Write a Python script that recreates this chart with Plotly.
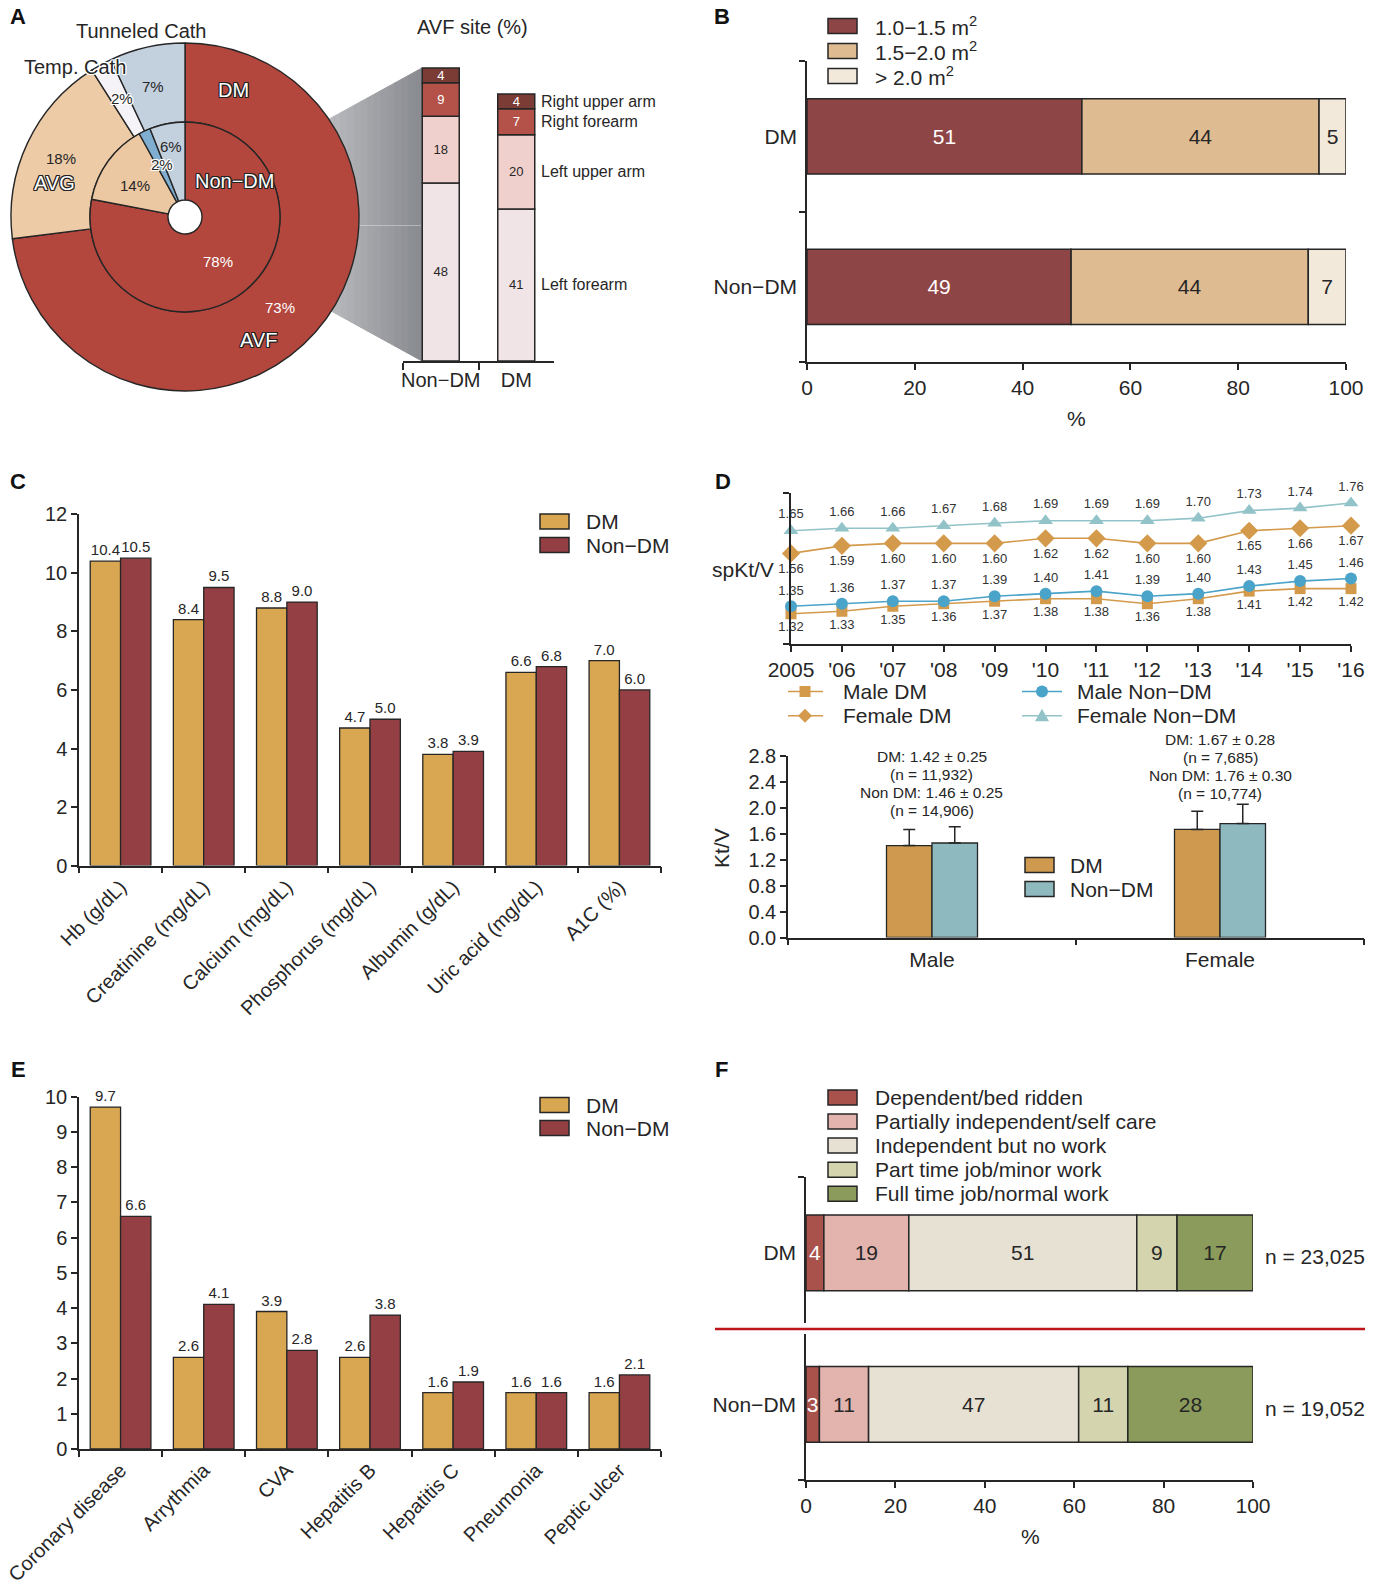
import plotly.graph_objects as go

W, H = 1383, 1588


def fx(px):
    return px / W


def fy(py):
    return 1 - py / H


NARROW = "Liberation Sans, Arial, Helvetica, sans-serif"
SANS = "Liberation Sans, Arial, Helvetica, sans-serif"
INK = "#262626"

# ---------------- data ----------------
access_types = ["AVF", "AVG", "Temp. Cath", "Tunneled Cath"]
access_dm_pct = [73, 18, 2, 7]
access_nondm_pct = [78, 14, 2, 6]

avf_groups = ["Non\u2212DM", "DM"]
avf_sites = ["Left forearm", "Left upper arm", "Right forearm", "Right upper arm"]
avf_left_forearm = [48, 41]
avf_left_upper_arm = [18, 20]
avf_right_forearm = [9, 7]
avf_right_upper_arm = [4, 4]

bsa_groups = ["Non\u2212DM", "DM"]
bsa_classes = ["1.0\u22121.5 m<sup>2</sup>", "1.5\u22122.0 m<sup>2</sup>", "> 2.0 m<sup>2</sup>"]
bsa_10_15 = [49, 51]
bsa_15_20 = [44, 44]
bsa_over_20 = [7, 5]

lab_items = ["Hb (g/dL)", "Creatinine (mg/dL)", "Calcium (mg/dL)", "Phosphorus (mg/dL)",
             "Albumin (g/dL)", "Uric acid (mg/dL)", "A1C (%)"]
lab_dm = [10.4, 8.4, 8.8, 4.7, 3.8, 6.6, 7.0]
lab_nondm = [10.5, 9.5, 9.0, 5.0, 3.9, 6.8, 6.0]

years = [2005, 2006, 2007, 2008, 2009, 2010, 2011, 2012, 2013, 2014, 2015, 2016]
year_labels = ["2005", "'06", "'07", "'08", "'09", "'10", "'11", "'12", "'13", "'14", "'15", "'16"]
spktv_male_dm = [1.32, 1.33, 1.35, 1.36, 1.37, 1.38, 1.38, 1.36, 1.38, 1.41, 1.42, 1.42]
spktv_male_nondm = [1.35, 1.36, 1.37, 1.37, 1.39, 1.40, 1.41, 1.39, 1.40, 1.43, 1.45, 1.46]
spktv_female_dm = [1.56, 1.59, 1.60, 1.60, 1.60, 1.62, 1.62, 1.60, 1.60, 1.65, 1.66, 1.67]
spktv_female_nondm = [1.65, 1.66, 1.66, 1.67, 1.68, 1.69, 1.69, 1.69, 1.70, 1.73, 1.74, 1.76]
spktv_series = ["Male DM", "Male Non\u2212DM", "Female DM", "Female Non\u2212DM"]

ktv_sex = ["Male", "Female"]
ktv_dm_mean = [1.42, 1.67]
ktv_dm_sd = [0.25, 0.28]
ktv_dm_n = [11932, 7685]
ktv_nondm_mean = [1.46, 1.76]
ktv_nondm_sd = [0.25, 0.30]
ktv_nondm_n = [14906, 10774]

comorb_items = ["Coronary disease", "Arrythmia", "CVA", "Hepatitis B", "Hepatitis C",
                "Pneumonia", "Peptic ulcer"]
comorb_dm = [9.7, 2.6, 3.9, 2.6, 1.6, 1.6, 1.6]
comorb_nondm = [6.6, 4.1, 2.8, 3.8, 1.9, 1.6, 2.1]

func_groups = ["Non\u2212DM", "DM"]
func_classes = ["Dependent/bed ridden", "Partially independent/self care",
                "Independent but no work", "Part time job/minor work",
                "Full time job/normal work"]
func_dependent = [3, 4]
func_partial = [11, 19]
func_indep_nowork = [47, 51]
func_parttime = [11, 9]
func_fulltime = [28, 17]
func_n = [19052, 23025]

# ---------------- styles ----------------
PIE_DM_COLORS = ["#B3463D", "#ECCBA6", "#F6F3F8", "#C3D0DE"]
PIE_NONDM_COLORS = ["#B3463D", "#EBC8A2", "#7FAED0", "#C3D0DE"]
AVF_COLORS = ["#F0E4E6", "#F0D0CC", "#B4524A", "#7B3C36"]
AVF_TEXT = [INK, INK, "white", "white"]
BSA_COLORS = ["#8E4545", "#DFBB92", "#F3E9DB"]
BSA_TEXT = ["white", INK, INK]
GOLD = "#D9A651"
DARKRED = "#933F43"
LINE_DM = "#D49A4C"
MALE_NONDM = "#4AA3C8"
FEMALE_NONDM = "#92C3C8"
KTV_DM = "#CF9A50"
KTV_NONDM = "#8DB9BF"
FUNC_COLORS = ["#A9524C", "#E3B3AE", "#E7E1D4", "#D4D5AE", "#8A9B5B"]
FUNC_TEXT = ["white", INK, INK, INK, INK]

OUTLINE = ", ".join(f"{a}px {b}px 0 #222" for a, b in
                    [(-1, -1), (1, -1), (-1, 1), (1, 1), (0, 1), (0, -1), (1, 0), (-1, 0)])
HALO = ", ".join(f"{a}px {b}px 0 #fff" for a, b in
                 [(-1, -1), (1, -1), (-1, 1), (1, 1), (0, 1), (0, -1), (1, 0), (-1, 0)])

BIG = 21

fig = go.Figure()
annotations = []
shapes = []


def ann(text, x, y, size, family=NARROW, color=INK, xanchor="center", yanchor="middle",
        shadow=None, **kw):
    font = dict(family=family, size=size, color=color)
    if shadow:
        font["shadow"] = shadow
    d = dict(text=text, x=fx(x), y=fy(y), xref="paper", yref="paper", showarrow=False,
             font=font, xanchor=xanchor, yanchor=yanchor)
    d.update(kw)
    annotations.append(d)


def legend_box(x0, yc, color, w=29, h=15):
    shapes.append(dict(type="rect", xref="paper", yref="paper", x0=fx(x0), x1=fx(x0 + w),
                       y0=fy(yc + h / 2), y1=fy(yc - h / 2), fillcolor=color,
                       line=dict(color=INK, width=1.5), layer="above"))


# ---------------- Panel A: donut ----------------
fig.add_trace(go.Pie(labels=access_types, values=access_dm_pct, sort=False,
                     direction="clockwise", rotation=0, hole=95 / 174,
                     domain=dict(x=[fx(11), fx(359)], y=[fy(391), fy(43)]),
                     marker=dict(colors=PIE_DM_COLORS, line=dict(color=INK, width=1.4)),
                     textinfo="none", hoverinfo="skip", showlegend=False))
fig.add_trace(go.Pie(labels=access_types, values=access_nondm_pct, sort=False,
                     direction="clockwise", rotation=0, hole=17 / 95,
                     domain=dict(x=[fx(90), fx(280)], y=[fy(312), fy(122)]),
                     marker=dict(colors=PIE_NONDM_COLORS, line=dict(color=INK, width=1.4)),
                     textinfo="none", hoverinfo="skip", showlegend=False))

# gray connector (gradient strips)
N = 18
xl, xr = 300.0, 422.0
for i in range(N):
    xa = xl + (xr - xl) * i / N
    xb = xl + (xr - xl) * (i + 1) / N
    t = (i + 0.5) / N
    c = [int(round(a + (b - a) * t)) for a, b in zip((200, 201, 204), (136, 138, 143))]
    col = f"rgb({c[0]},{c[1]},{c[2]})"
    top = lambda x: 68 + (422 - x) * 0.55
    bot = lambda x: 361 - (422 - x) * 0.55
    path = (f"M {fx(xa)},{fy(top(xa))} L {fx(xb)},{fy(top(xb))} "
            f"L {fx(xb)},{fy(bot(xb))} L {fx(xa)},{fy(bot(xa))} Z")
    shapes.append(dict(type="path", xref="paper", yref="paper", path=path, fillcolor=col,
                       line=dict(color=col, width=1), layer="below"))
shapes.append(dict(type="line", xref="paper", yref="paper", x0=fx(320), x1=fx(421),
                   y0=fy(225.5), y1=fy(225.5), line=dict(color="rgba(255,255,255,0.35)", width=1),
                   layer="below"))

# pie labels
ann("Tunneled Cath", 141, 31, 20, family=SANS)
ann("Temp. Cath", 75, 67, 20, family=SANS, shadow=HALO)
ann("DM", 233, 90, 20, family=SANS, color="white", shadow=OUTLINE)
ann(f"{access_dm_pct[3]}%", 153, 86, 15, family=SANS)
ann(f"{access_dm_pct[2]}%", 122, 98, 15, family=SANS, shadow=HALO)
ann(f"{access_dm_pct[1]}%", 61, 158, 15, family=SANS)
ann("AVG", 54, 183, 20, family=SANS, color="white", shadow=OUTLINE)
ann(f"{access_nondm_pct[3]}%", 171, 146, 15, family=SANS)
ann(f"{access_nondm_pct[2]}%", 162, 165, 15, family=SANS, shadow=HALO)
ann(f"{access_nondm_pct[1]}%", 135, 185, 15, family=SANS)
ann("Non\u2212DM", 234, 181, 20, family=SANS, color="white", shadow=OUTLINE)
ann(f"{access_nondm_pct[0]}%", 218, 262, 15, family=SANS, color="white")
ann(f"{access_dm_pct[0]}%", 280, 308, 15, family=SANS, color="white")
ann("AVF", 258, 340, 20, family=SANS, color="white", shadow=OUTLINE)

# ---------------- Panel A: AVF site stacked bars ----------------
avf_stack = [avf_left_forearm, avf_left_upper_arm, avf_right_forearm, avf_right_upper_arm]
base = [0] * len(avf_groups)
for vals, col, tcol, name in zip(avf_stack, AVF_COLORS, AVF_TEXT, avf_sites):
    fig.add_trace(go.Bar(x=avf_groups, y=vals, base=list(base), width=0.49, name=name,
                         marker=dict(color=col, line=dict(color=INK, width=1.5)),
                         text=vals, textposition="inside", insidetextanchor="middle",
                         textangle=0, constraintext="none",
                         textfont=dict(family=SANS, size=13, color=tcol),
                         xaxis="x", yaxis="y", showlegend=False, hoverinfo="skip"))
    annotations.append(dict(text=name, x=1.3, y=base[1] + vals[1] / 2, xref="x", yref="y",
                            showarrow=False, xanchor="left", yanchor="middle",
                            font=dict(family=SANS, size=16, color=INK)))
    base = [b + v for b, v in zip(base, vals)]
ann("AVF site (%)", 472, 27, 20, family=SANS)

# ---------------- Panel B ----------------
base = [0] * len(bsa_groups)
for vals, col, tcol, name in zip([bsa_10_15, bsa_15_20, bsa_over_20], BSA_COLORS, BSA_TEXT, bsa_classes):
    fig.add_trace(go.Bar(y=bsa_groups, x=vals, base=list(base), orientation="h", width=0.5,
                         marker=dict(color=col, line=dict(color=INK, width=1.5)),
                         text=vals, textposition="inside", insidetextanchor="middle",
                         textangle=0, constraintext="none",
                         textfont=dict(family=NARROW, size=BIG, color=tcol),
                         xaxis="x2", yaxis="y2", showlegend=False, hoverinfo="skip"))
    base = [b + v for b, v in zip(base, vals)]
for i, (name, col) in enumerate(zip(bsa_classes, BSA_COLORS)):
    yc = 26 + 25 * i
    legend_box(828, yc, col)
    ann(name, 873, yc, BIG, xanchor="left")
ann("%", 1076, 418, BIG)

# ---------------- Panel C ----------------
for vals, col, off in [(lab_dm, GOLD, -0.365), (lab_nondm, DARKRED, 0.0)]:
    fig.add_trace(go.Bar(x=lab_items, y=vals, offset=off, width=0.365,
                         marker=dict(color=col, line=dict(color=INK, width=1.3)),
                         texttemplate="%{y:.1f}", textposition="outside", cliponaxis=False,
                         constraintext="none", textfont=dict(family=NARROW, size=15, color=INK),
                         xaxis="x3", yaxis="y3", showlegend=False, hoverinfo="skip"))
legend_box(540, 521.5, GOLD)
ann("DM", 584, 521.5, BIG, xanchor="left")
legend_box(540, 545, DARKRED)
ann("Non\u2212DM", 584, 545, BIG, xanchor="left")

# ---------------- Panel D: lines ----------------
line_specs = [
    (spktv_male_dm, LINE_DM, "square", 11, "bottom center"),
    (spktv_male_nondm, MALE_NONDM, "circle", 12, "top center"),
    (spktv_female_dm, LINE_DM, "diamond", 14, "bottom center"),
    (spktv_female_nondm, FEMALE_NONDM, "triangle-up", 13, "top center"),
]
for (vals, col, sym, size, tpos), name in zip(line_specs, spktv_series):
    fig.add_trace(go.Scatter(x=years, y=vals, mode="lines+markers+text", name=name,
                             line=dict(color=col, width=1.6),
                             marker=dict(symbol=sym, size=size, color=col),
                             text=[f"{v:.2f}" for v in vals], textposition=tpos,
                             textfont=dict(family=NARROW, size=13, color="#333"),
                             cliponaxis=False, xaxis="x4", yaxis="y4",
                             showlegend=False, hoverinfo="skip"))
ann("spKt/V", 776, 569, BIG, xanchor="right")

# manual legend for line chart
leg_rows = [691.5, 715.7]
leg_cols = [(788, 823, 805, 841), (1022, 1062, 1042, 1075)]
leg_items = [(0, 0), (0, 1), (1, 0), (1, 1)]
for (row, colx), (vals, col, sym, size, tpos), name in zip(leg_items, line_specs, spktv_series):
    yc = leg_rows[row]
    x0, x1, xm, xt = leg_cols[colx]
    shapes.append(dict(type="line", xref="paper", yref="paper", x0=fx(x0), x1=fx(x1),
                       y0=fy(yc), y1=fy(yc), line=dict(color=col, width=1.6), layer="above"))
    if sym == "square":
        s = 5.5
        shapes.append(dict(type="rect", xref="paper", yref="paper", x0=fx(xm - s), x1=fx(xm + s),
                           y0=fy(yc + s), y1=fy(yc - s), fillcolor=col, line=dict(width=0), layer="above"))
    elif sym == "circle":
        s = 6
        shapes.append(dict(type="circle", xref="paper", yref="paper", x0=fx(xm - s), x1=fx(xm + s),
                           y0=fy(yc + s), y1=fy(yc - s), fillcolor=col, line=dict(width=0), layer="above"))
    elif sym == "diamond":
        s = 7
        p = (f"M {fx(xm)},{fy(yc - s)} L {fx(xm + s)},{fy(yc)} L {fx(xm)},{fy(yc + s)} "
             f"L {fx(xm - s)},{fy(yc)} Z")
        shapes.append(dict(type="path", xref="paper", yref="paper", path=p, fillcolor=col,
                           line=dict(width=0), layer="above"))
    else:
        s = 7
        p = (f"M {fx(xm)},{fy(yc - s)} L {fx(xm + s)},{fy(yc + s * 0.8)} "
             f"L {fx(xm - s)},{fy(yc + s * 0.8)} Z")
        shapes.append(dict(type="path", xref="paper", yref="paper", path=p, fillcolor=col,
                           line=dict(width=0), layer="above"))
    ann(name, xt, yc, BIG, xanchor="left")

# ---------------- Panel D: Kt/V bars ----------------
for vals, sd, col, off in [(ktv_dm_mean, ktv_dm_sd, KTV_DM, -0.158),
                           (ktv_nondm_mean, ktv_nondm_sd, KTV_NONDM, 0.0)]:
    fig.add_trace(go.Bar(x=ktv_sex, y=vals, offset=off, width=0.158,
                         marker=dict(color=col, line=dict(color=INK, width=1.3)),
                         error_y=dict(type="data", array=sd, arrayminus=[0] * len(sd),
                                      symmetric=False, color=INK, thickness=1.5, width=6),
                         xaxis="x5", yaxis="y5", showlegend=False, hoverinfo="skip"))
stat_centers = [931.5, 1220]
stat_tops = [756, 739]
for i, sex in enumerate(ktv_sex):
    lines = [f"DM: {ktv_dm_mean[i]:.2f} \u00b1 {ktv_dm_sd[i]:.2f}",
             f"(n = {ktv_dm_n[i]:,})",
             f"Non DM: {ktv_nondm_mean[i]:.2f} \u00b1 {ktv_nondm_sd[i]:.2f}",
             f"(n = {ktv_nondm_n[i]:,})"]
    for j, t in enumerate(lines):
        ann(t, stat_centers[i], stat_tops[i] + 18 * j, 15.5)
legend_box(1025, 865, KTV_DM)
ann("DM", 1068, 865, BIG, xanchor="left")
legend_box(1025, 889, KTV_NONDM)
ann("Non\u2212DM", 1068, 889, BIG, xanchor="left")
ann("Kt/V", 722, 848, BIG, textangle=-90)

# ---------------- Panel E ----------------
for vals, col, off in [(comorb_dm, GOLD, -0.365), (comorb_nondm, DARKRED, 0.0)]:
    fig.add_trace(go.Bar(x=comorb_items, y=vals, offset=off, width=0.365,
                         marker=dict(color=col, line=dict(color=INK, width=1.3)),
                         texttemplate="%{y:.1f}", textposition="outside", cliponaxis=False,
                         constraintext="none", textfont=dict(family=NARROW, size=15, color=INK),
                         xaxis="x6", yaxis="y6", showlegend=False, hoverinfo="skip"))
legend_box(540, 1105, GOLD)
ann("DM", 584, 1105, BIG, xanchor="left")
legend_box(540, 1128, DARKRED)
ann("Non\u2212DM", 584, 1128, BIG, xanchor="left")

# ---------------- Panel F ----------------
base = [0] * len(func_groups)
for vals, col, tcol in zip([func_dependent, func_partial, func_indep_nowork, func_parttime, func_fulltime],
                           FUNC_COLORS, FUNC_TEXT):
    fig.add_trace(go.Bar(y=func_groups, x=vals, base=list(base), orientation="h", width=0.5,
                         marker=dict(color=col, line=dict(color=INK, width=1.5)),
                         text=vals, textposition="inside", insidetextanchor="middle",
                         textangle=0, constraintext="none",
                         textfont=dict(family=NARROW, size=BIG, color=tcol),
                         xaxis="x7", yaxis="y7", showlegend=False, hoverinfo="skip"))
    base = [b + v for b, v in zip(base, vals)]
for i, n in enumerate(func_n):
    annotations.append(dict(text=f"n = {n:,}", x=base[i], y=i, xref="x7", yref="y7",
                            xshift=10, yshift=-4, showarrow=False, xanchor="left",
                            font=dict(family=NARROW, size=BIG, color=INK)))
for i, (name, col) in enumerate(zip(func_classes, FUNC_COLORS)):
    yc = 1097.5 + 24.05 * i
    legend_box(828, yc, col)
    ann(name, 873, yc, BIG, xanchor="left")
ann("%", 1030, 1536, BIG)
# axis gap + red divider
shapes.append(dict(type="rect", xref="paper", yref="paper", x0=fx(798), x1=fx(814),
                   y0=fy(1334), y1=fy(1323), fillcolor="white", line=dict(width=0), layer="above"))
shapes.append(dict(type="line", xref="paper", yref="paper", x0=fx(715), x1=fx(1365),
                   y0=fy(1329), y1=fy(1329), line=dict(color="#C0141B", width=2.5), layer="above"))

# panel letters
for letter, x, y in [("A", 18, 17), ("B", 722, 17), ("C", 18, 481), ("D", 723, 481),
                     ("E", 18, 1069), ("F", 721, 1069)]:
    ann(f"<b>{letter}</b>", x, y, 22, family=SANS, color="#111")


# ---------------- axes ----------------
def ax(**kw):
    d = dict(showline=True, linecolor=INK, linewidth=1.5, ticks="outside", tickcolor=INK,
             tickwidth=1.5, ticklen=6, showgrid=False, zeroline=False, fixedrange=True,
             automargin=False, tickfont=dict(family=NARROW, size=BIG, color=INK))
    d.update(kw)
    return d


layout_axes = dict(
    xaxis=ax(domain=[fx(403), fx(554)], anchor="y", type="category", categoryorder="array",
             categoryarray=avf_groups, range=[-0.5, 1.5], tickson="boundaries", ticklen=7,
             tickangle=0, tickfont=dict(family=SANS, size=20, color=INK)),
    yaxis=dict(domain=[fy(361), fy(361 - 80 * 3.71)], anchor="x", range=[0, 80], visible=False,
               fixedrange=True, automargin=False),
    xaxis2=ax(domain=[fx(807), fx(1346)], anchor="y2", range=[0, 100], dtick=20, tick0=0),
    yaxis2=ax(domain=[fy(362), fy(61)], anchor="x2", type="category", categoryorder="array",
              categoryarray=bsa_groups, range=[-0.5, 1.5], tickson="boundaries",
              ticklabelstandoff=4),
    xaxis3=ax(domain=[fx(79), fx(661)], anchor="y3", type="category", categoryorder="array",
              categoryarray=lab_items, range=[-0.5, 6.5], tickson="boundaries", tickangle=-45,
              tickfont=dict(family=SANS, size=20, color=INK)),
    yaxis3=ax(domain=[fy(865.6), fy(514.3)], anchor="x3", range=[0, 12], dtick=2,
              tickfont=dict(family=NARROW, size=20, color=INK)),
    xaxis4=ax(domain=[fx(791), fx(1351)], anchor="y4", range=[2005, 2016], tickvals=years,
              ticktext=year_labels, tickfont=dict(family=NARROW, size=BIG, color=INK)),
    yaxis4=ax(domain=[fy(644), fy(493)], anchor="x4", range=[1.2, 1.8], tickvals=[1.2, 1.8],
              showticklabels=False),
    xaxis5=ax(domain=[fx(788), fx(1364)], anchor="y5", type="category", categoryorder="array",
              categoryarray=ktv_sex, range=[-0.5, 1.5], tickson="boundaries", tickangle=0,
              ticklabelstandoff=3),
    yaxis5=ax(domain=[fy(937.5), fy(756.3)], anchor="x5", range=[0, 2.8], dtick=0.4,
              tickformat=".1f", tickfont=dict(family=NARROW, size=20, color=INK)),
    xaxis6=ax(domain=[fx(79), fx(661)], anchor="y6", type="category", categoryorder="array",
              categoryarray=comorb_items, range=[-0.5, 6.5], tickson="boundaries",
              tickangle=-45, tickfont=dict(family=SANS, size=20, color=INK)),
    yaxis6=ax(domain=[fy(1449), fy(1096.5)], anchor="x6", range=[0, 10], dtick=1,
              tickfont=dict(family=NARROW, size=20, color=INK)),
    xaxis7=ax(domain=[fx(806), fx(1253)], anchor="y7", range=[0, 100], dtick=20, tick0=0),
    yaxis7=ax(domain=[fy(1480), fy(1177)], anchor="x7", type="category", categoryorder="array",
              categoryarray=func_groups, range=[-0.5, 1.5], tickson="boundaries",
              ticklabelstandoff=4),
)

fig.update_layout(
    width=W, height=H, margin=dict(l=0, r=0, t=0, b=0, pad=0, autoexpand=False),
    paper_bgcolor="white", plot_bgcolor="rgba(0,0,0,0)",
    barmode="overlay", showlegend=False,
    annotations=annotations, shapes=shapes,
    font=dict(family=NARROW, color=INK),
    **layout_axes,
)

fig.write_html("out.html")
